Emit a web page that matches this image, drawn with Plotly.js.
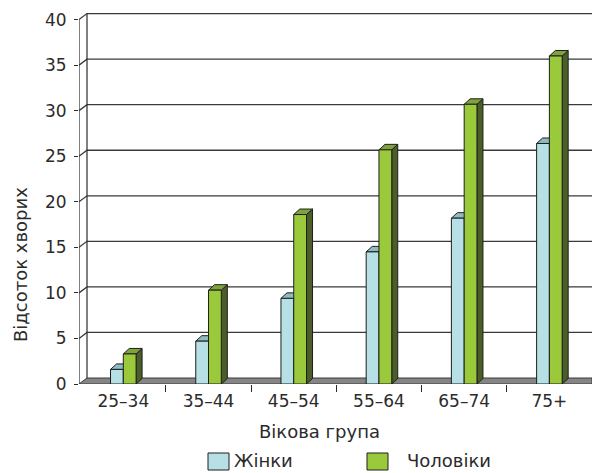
<!DOCTYPE html>
<html>
<head>
<meta charset="utf-8">
<script src="https://cdn.plot.ly/plotly-3.0.1.min.js"></script>
<style>html,body{margin:0;padding:0;background:#fff;}#chart{width:592px;height:473px;}</style>
</head>
<body>
<div id="chart"></div>
<script>
// ---- data ----
const categories = ['25–34', '35–44', '45–54', '55–64', '65–74', '75+'];
const women = [1.6, 4.7, 9.4, 14.5, 18.2, 26.4];
const men = [3.3, 10.3, 18.6, 25.7, 30.7, 36.0];
const seriesNames = ['Жінки', 'Чоловіки'];
const yTicks = [0, 5, 10, 15, 20, 25, 30, 35, 40];
const xTitle = 'Вікова група';
const yTitle = 'Відсоток хворих';

// ---- style ----
const W = 592, H = 473;
const M = {l: 79, r: 0, t: 12, b: 89};
const plotW = W - M.l - M.r, plotH = H - M.t - M.b;
const yMax = 40.83;
const xMin = -0.52, xMax = 5.5;
const pxX = plotW / (xMax - xMin), pxY = plotH / yMax;
const backDx = 8 / pxX, backDy = 6 / pxY;     // depth of wall/floor
const barDx = 6 / pxX, barDy = 5.5 / pxY;     // depth of columns
const barW = 0.15;
const colors = {
  women: {front: '#b6e0e5', top: '#8fbcc0', side: '#77a3a7'},
  men: {front: '#9aca3c', top: '#7ea33a', side: '#4a5e28'}
};
const edge = '#1e1e1e';
const textColor = '#2b2b2b';
const family = 'DejaVu Sans, Liberation Sans, sans-serif';
const font = {family: family, size: 17, color: textColor};
const bigFont = {family: family, size: 18, color: textColor};

const xs = categories.map((c, i) => i);
const shapes = [];

// floor
shapes.push({type: 'path', xref: 'x', yref: 'y', layer: 'below',
  path: `M ${xMin},0 L ${xMax},0 L ${xMax},${backDy} L ${xMin + backDx},${backDy} Z`,
  fillcolor: '#858585', line: {color: '#3a3a3a', width: 1}});
// gridlines on side/back wall
yTicks.forEach(v => {
  if (v === 0) return;
  shapes.push({type: 'path', xref: 'x', yref: 'y', layer: 'below',
    path: `M ${xMin},${v} L ${xMin + backDx},${v + backDy} L ${xMax},${v + backDy}`,
    line: {color: '#3a3a3a', width: 1.3}});
});
// back wall left edge
shapes.push({type: 'line', xref: 'x', yref: 'y', layer: 'below',
  x0: xMin + backDx, x1: xMin + backDx, y0: backDy, y1: yTicks[yTicks.length - 1] + backDy,
  line: {color: '#2a2a2a', width: 1.2}});
// front axis line
shapes.push({type: 'line', xref: 'x', yref: 'y', layer: 'below',
  x0: xMin, x1: xMin, y0: 0, y1: yTicks[yTicks.length - 1],
  line: {color: '#2a2a2a', width: 1.2}});

// 3D faces for columns
function faces(vals, offset, col) {
  vals.forEach((v, i) => {
    const x0 = i + offset, x1 = x0 + barW;
    shapes.push({type: 'path', xref: 'x', yref: 'y', layer: 'below',
      path: `M ${x1},0 L ${x1 + barDx},${barDy} L ${x1 + barDx},${v + barDy} L ${x1},${v} Z`,
      fillcolor: col.side, line: {color: edge, width: 1}});
    shapes.push({type: 'path', xref: 'x', yref: 'y', layer: 'below',
      path: `M ${x0},${v} L ${x1},${v} L ${x1 + barDx},${v + barDy} L ${x0 + barDx},${v + barDy} Z`,
      fillcolor: col.top, line: {color: edge, width: 1}});
  });
}
faces(women, -barW, colors.women);
faces(men, 0, colors.men);

// legend (custom, to match swatch size)
function px2paperX(p) { return (p - M.l) / plotW; }
function px2paperY(p) { return (M.t + plotH - p) / plotH; }
const legendItems = [
  {name: seriesNames[0], col: colors.women.front, sx: 208, tx: 233},
  {name: seriesNames[1], col: colors.men.front, sx: 367, tx: 406}
];
const annotations = [];
legendItems.forEach(it => {
  shapes.push({type: 'rect', xref: 'paper', yref: 'paper',
    x0: px2paperX(it.sx), x1: px2paperX(it.sx + 21),
    y0: px2paperY(453), y1: px2paperY(470),
    fillcolor: it.col, line: {color: edge, width: 1}});
  annotations.push({xref: 'paper', yref: 'paper', x: px2paperX(it.tx), y: px2paperY(472),
    xanchor: 'left', yanchor: 'bottom', showarrow: false, text: it.name, font: bigFont,
    borderpad: 0});
});
annotations.push({xref: 'paper', yref: 'paper', x: px2paperX(319), y: px2paperY(431),
  xanchor: 'center', yanchor: 'middle', showarrow: false, text: xTitle, font: bigFont});
annotations.push({xref: 'paper', yref: 'paper', x: px2paperX(20), y: px2paperY(265),
  xanchor: 'center', yanchor: 'middle', showarrow: false, textangle: -90, text: yTitle, font: bigFont});

const traces = [
  {type: 'bar', name: seriesNames[0], x: xs, y: women, offset: -barW, width: barW,
   marker: {color: colors.women.front, line: {color: edge, width: 1}}, hoverinfo: 'y'},
  {type: 'bar', name: seriesNames[1], x: xs, y: men, offset: 0, width: barW,
   marker: {color: colors.men.front, line: {color: edge, width: 1}}, hoverinfo: 'y'}
];

const layout = {
  width: W, height: H, margin: M,
  paper_bgcolor: '#fff', plot_bgcolor: 'rgba(0,0,0,0)',
  showlegend: false, barmode: 'overlay',
  font: font,
  xaxis: {range: [xMin, xMax], tickmode: 'array', tickvals: xs, ticktext: categories,
    ticks: '', showgrid: false, zeroline: false, showline: false, fixedrange: true,
    tickfont: font, ticklabelstandoff: 5,
    minor: {tickmode: 'array', tickvals: [0.5, 1.5, 2.5, 3.5, 4.5], ticks: 'outside', ticklen: 7,
      tickcolor: '#2a2a2a', tickwidth: 1, showgrid: false}},
  yaxis: {range: [0, yMax], tickmode: 'array', tickvals: yTicks, ticks: 'outside', ticklen: 4,
    tickcolor: '#2a2a2a', tickwidth: 1, showgrid: false, zeroline: false, showline: false,
    ticklabelstandoff: 4, tickfont: font, fixedrange: true},
  shapes: shapes,
  annotations: annotations
};

Plotly.newPlot('chart', traces, layout, {staticPlot: true, displayModeBar: false});
</script>
</body>
</html>
